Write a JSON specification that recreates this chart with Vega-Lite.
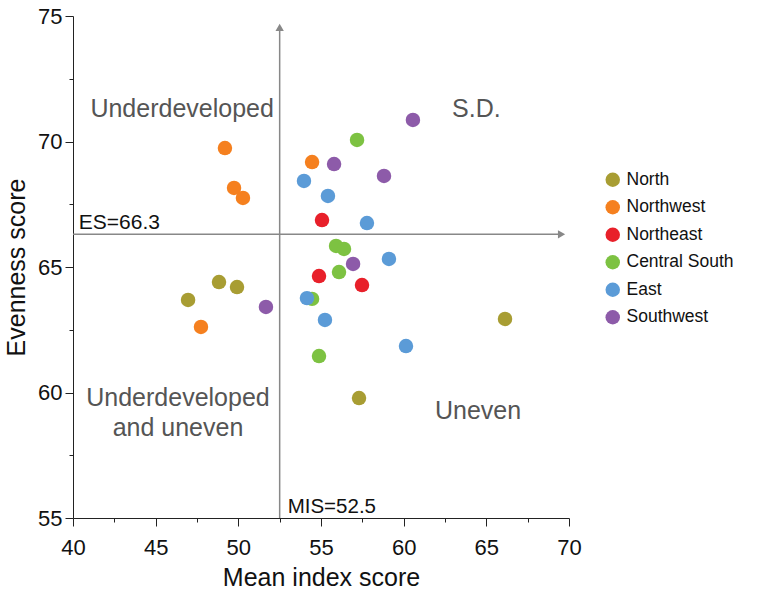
{
  "$schema": "https://vega.github.io/schema/vega-lite/v6.json",
  "width": 496,
  "height": 502,
  "autosize": {"type": "none"},
  "padding": {"left": 73, "top": 16, "right": 199, "bottom": 76},
  "background": "white",
  "config": {
    "view": {"stroke": null},
    "font": "Liberation Sans",
    "axis": {
      "domainColor": "#222",
      "tickColor": "#222",
      "labelColor": "#111",
      "titleColor": "#111",
      "labelFont": "Liberation Sans",
      "titleFont": "Liberation Sans",
      "labelFontSize": 22,
      "titleFontSize": 25,
      "titleFontWeight": "normal",
      "labelFlush": false,
      "grid": false
    }
  },
  "datasets": {
    "points": [
      {"region": "North", "mis": 46.96, "es": 63.69},
      {"region": "North", "mis": 48.83, "es": 64.40},
      {"region": "North", "mis": 49.92, "es": 64.20},
      {"region": "North", "mis": 57.30, "es": 59.78},
      {"region": "North", "mis": 66.13, "es": 62.93},
      {"region": "Northwest", "mis": 49.19, "es": 69.74},
      {"region": "Northwest", "mis": 49.74, "es": 68.15},
      {"region": "Northwest", "mis": 50.28, "es": 67.75},
      {"region": "Northwest", "mis": 54.46, "es": 69.18},
      {"region": "Northwest", "mis": 47.74, "es": 62.61},
      {"region": "Northeast", "mis": 55.06, "es": 66.87},
      {"region": "Northeast", "mis": 54.88, "es": 64.64},
      {"region": "Northeast", "mis": 57.48, "es": 64.28},
      {"region": "Central South", "mis": 57.18, "es": 70.06},
      {"region": "Central South", "mis": 55.91, "es": 65.84},
      {"region": "Central South", "mis": 56.39, "es": 65.72},
      {"region": "Central South", "mis": 56.09, "es": 64.80},
      {"region": "Central South", "mis": 54.46, "es": 63.73},
      {"region": "Central South", "mis": 54.88, "es": 61.45},
      {"region": "East", "mis": 53.97, "es": 68.43},
      {"region": "East", "mis": 55.42, "es": 67.83},
      {"region": "East", "mis": 57.78, "es": 66.75},
      {"region": "East", "mis": 59.11, "es": 65.32},
      {"region": "East", "mis": 54.15, "es": 63.76},
      {"region": "East", "mis": 55.24, "es": 62.89},
      {"region": "East", "mis": 60.14, "es": 61.85},
      {"region": "Southwest", "mis": 60.56, "es": 70.86},
      {"region": "Southwest", "mis": 55.79, "es": 69.10},
      {"region": "Southwest", "mis": 58.81, "es": 68.63},
      {"region": "Southwest", "mis": 56.94, "es": 65.12},
      {"region": "Southwest", "mis": 51.67, "es": 63.41}
    ],
    "rules": [
      {"x": 52.5, "y": 55, "x2": 52.5, "y2": 74.6},
      {"x": 40, "y": 66.3, "x2": 69.6, "y2": 66.3}
    ],
    "arrowsUp": [{"x": 52.5, "y": 74.55}],
    "arrowsRight": [{"x": 69.55, "y": 66.3}],
    "quadrants": [
      {"text": "Underdeveloped", "x": 46.6, "y": 71.3},
      {"text": "S.D.", "x": 64.4, "y": 71.3},
      {"text": "Underdeveloped", "x": 46.35, "y": 59.8},
      {"text": "and uneven", "x": 46.35, "y": 58.6},
      {"text": "Uneven", "x": 64.5, "y": 59.25}
    ],
    "thresholds": [
      {"text": "ES=66.3", "x": 40.35, "y": 66.3},
      {"text": "MIS=52.5", "x": 52.5, "y": 55}
    ]
  },
  "layer": [
    {
      "data": {"name": "rules"},
      "mark": {"type": "rule", "color": "#888", "strokeWidth": 1.5},
      "encoding": {
        "x": {"field": "x", "type": "quantitative", "scale": {"domain": [40, 70], "nice": false},
          "axis": {
            "title": "Mean index score",
            "values": [40, 42.5, 45, 47.5, 50, 52.5, 55, 57.5, 60, 62.5, 65, 67.5, 70],
            "labelExpr": "datum.value % 5 === 0 ? datum.label : ''",
            "tickSize": {"condition": {"test": "datum.value % 5 === 0", "value": 8}, "value": 4},
            "labelPadding": 11,
            "titlePadding": 7
          }},
        "y": {"field": "y", "type": "quantitative", "scale": {"domain": [55, 75], "nice": false},
          "axis": {
            "title": "Evenness score",
            "values": [55, 57.5, 60, 62.5, 65, 67.5, 70, 72.5, 75],
            "labelExpr": "datum.value % 5 === 0 ? datum.label : ''",
            "tickSize": {"condition": {"test": "datum.value % 5 === 0", "value": 8}, "value": 4},
            "labelPadding": 3,
            "titlePadding": 8
          }},
        "x2": {"field": "x2"},
        "y2": {"field": "y2"}
      }
    },
    {
      "data": {"name": "arrowsUp"},
      "mark": {"type": "point", "shape": "triangle-up", "filled": true, "color": "#888", "size": 70, "opacity": 1},
      "encoding": {
        "x": {"field": "x", "type": "quantitative"},
        "y": {"field": "y", "type": "quantitative"}
      }
    },
    {
      "data": {"name": "arrowsRight"},
      "mark": {"type": "point", "shape": "triangle-right", "filled": true, "color": "#888", "size": 70, "opacity": 1},
      "encoding": {
        "x": {"field": "x", "type": "quantitative"},
        "y": {"field": "y", "type": "quantitative"}
      }
    },
    {
      "data": {"name": "points"},
      "mark": {"type": "circle", "size": 210, "opacity": 1},
      "encoding": {
        "x": {"field": "mis", "type": "quantitative"},
        "y": {"field": "es", "type": "quantitative"},
        "color": {
          "field": "region", "type": "nominal",
          "scale": {
            "domain": ["North", "Northwest", "Northeast", "Central South", "East", "Southwest"],
            "range": ["#A89D33", "#F5801F", "#E8202A", "#7DC242", "#5B9BD7", "#8D5BA9"]
          },
          "legend": {
            "title": null,
            "orient": "none",
            "legendX": 531,
            "legendY": 155,
            "symbolType": "circle",
            "symbolSize": 210,
            "symbolStrokeWidth": 0,
            "labelFontSize": 17.5,
            "labelFont": "Liberation Sans",
            "labelColor": "#111",
            "rowPadding": 8.5,
            "labelOffset": 5
          }
        }
      }
    },
    {
      "data": {"name": "quadrants"},
      "mark": {"type": "text", "fontSize": 25, "color": "#555", "align": "center", "baseline": "middle", "font": "Liberation Sans"},
      "encoding": {
        "x": {"field": "x", "type": "quantitative"},
        "y": {"field": "y", "type": "quantitative"},
        "text": {"field": "text"}
      }
    },
    {
      "data": {"name": "thresholds"},
      "transform": [{"filter": "datum.text === 'ES=66.3'"}],
      "mark": {"type": "text", "fontSize": 21, "color": "#111", "align": "left", "baseline": "alphabetic", "dy": -5, "font": "Liberation Sans"},
      "encoding": {
        "x": {"field": "x", "type": "quantitative"},
        "y": {"field": "y", "type": "quantitative"},
        "text": {"field": "text"}
      }
    },
    {
      "data": {"name": "thresholds"},
      "transform": [{"filter": "datum.text === 'MIS=52.5'"}],
      "mark": {"type": "text", "fontSize": 20.5, "color": "#111", "align": "left", "baseline": "alphabetic", "dx": 8, "dy": -5, "font": "Liberation Sans"},
      "encoding": {
        "x": {"field": "x", "type": "quantitative"},
        "y": {"field": "y", "type": "quantitative"},
        "text": {"field": "text"}
      }
    }
  ]
}
